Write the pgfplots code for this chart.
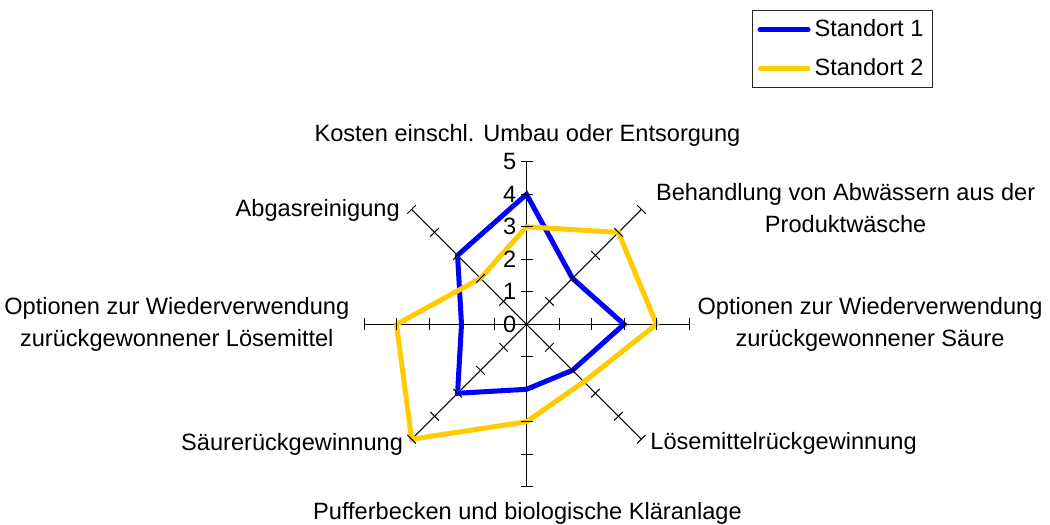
\documentclass[border=0pt]{standalone}
\usepackage{fontspec}
\setmainfont{Liberation Sans}
\usepackage{pgfplots}
\pgfplotsset{compat=1.18}
\usepgfplotslibrary{polar}
\definecolor{s1}{RGB}{0,0,255}
\definecolor{s2}{RGB}{255,204,0}
\begin{document}
\begin{tikzpicture}
\begin{axis}[
  x=16.25pt, y=16.25pt,
  xmin=-16.2, xmax=16.108, ymin=-6.175, ymax=9.978,
  hide axis, clip=false,
  font=\fontsize{11.8}{14}\selectfont,
  legend style={at={(axis cs:6.94,9.67)}, anchor=north west, draw=black!85, line width=0.5pt,
    font=\fontsize{11.8}{14}\selectfont, inner xsep=2.5pt, inner ysep=2.5pt, row sep=5.5pt},
  legend cell align=left,
  legend image code/.code={\draw[#1, line cap=round] (0pt,0pt) -- (24pt,0pt);},
]
% fixed bounding box of the whole picture
\path (axis cs:-16.2,-6.175) rectangle (axis cs:16.108,9.978);
\pgfplotsinvokeforeach{0,45,90,135,180,225,270,315}{
  \addplot[black, line width=0.5pt, data cs=polar, mark=|, mark size=3pt,
    mark indices={2,3,4,5,6}, mark options={rotate=#1, solid}, forget plot]
    coordinates {(#1,0) (#1,1) (#1,2) (#1,3) (#1,4) (#1,5)};
}
% Standort 1
\addplot[s1, line width=2.5pt, data cs=polar, line join=miter, mark=none]
  coordinates {(90,4) (45,2) (0,3) (-45,2) (-90,2) (-135,3) (180,2) (135,3) (90,4) (45,2)};
\addlegendentry{Standort 1}
% Standort 2
\addplot[s2, line width=2.5pt, data cs=polar, line join=miter, mark=none]
  coordinates {(90,3) (45,4) (0,4) (-45,2.5) (-90,3) (-135,5) (180,4) (135,2) (90,3) (45,4)};
\addlegendentry{Standort 2}
% value labels
\foreach \v in {0,1,2,3,4,5} {
  \edef\tmp{\noexpand\node[anchor=east, inner sep=0pt] at (axis cs:-0.3,\v) {\v};}\tmp
}
% category labels
\node[anchor=base, inner sep=0pt] at (axis cs:0.03,5.62) {Kosten einschl. Umbau oder Entsorgung};
\node[anchor=base, inner sep=0pt] at (axis cs:9.82,3.82) {Behandlung von Abwässern aus der};
\node[anchor=base, inner sep=0pt] at (axis cs:9.82,2.83) {Produktwäsche};
\node[anchor=base, inner sep=0pt] at (axis cs:10.57,0.29) {Optionen zur Wiederverwendung};
\node[anchor=base, inner sep=0pt] at (axis cs:10.57,-0.69) {zurückgewonnener Säure};
\node[anchor=base west, inner sep=0pt] at (axis cs:3.80,-3.84) {Lösemittelrückgewinnung};
\node[anchor=base, inner sep=0pt] at (axis cs:0.03,-6.0) {Pufferbecken und biologische Kläranlage};
\node[anchor=base east, inner sep=0pt] at (axis cs:-3.79,-3.87) {Säurerückgewinnung};
\node[anchor=base, inner sep=0pt] at (axis cs:-10.76,0.29) {Optionen zur Wiederverwendung};
\node[anchor=base, inner sep=0pt] at (axis cs:-10.76,-0.69) {zurückgewonnener Lösemittel};
\node[anchor=base east, inner sep=0pt] at (axis cs:-3.89,3.33) {Abgasreinigung};
\end{axis}
\end{tikzpicture}
\end{document}
